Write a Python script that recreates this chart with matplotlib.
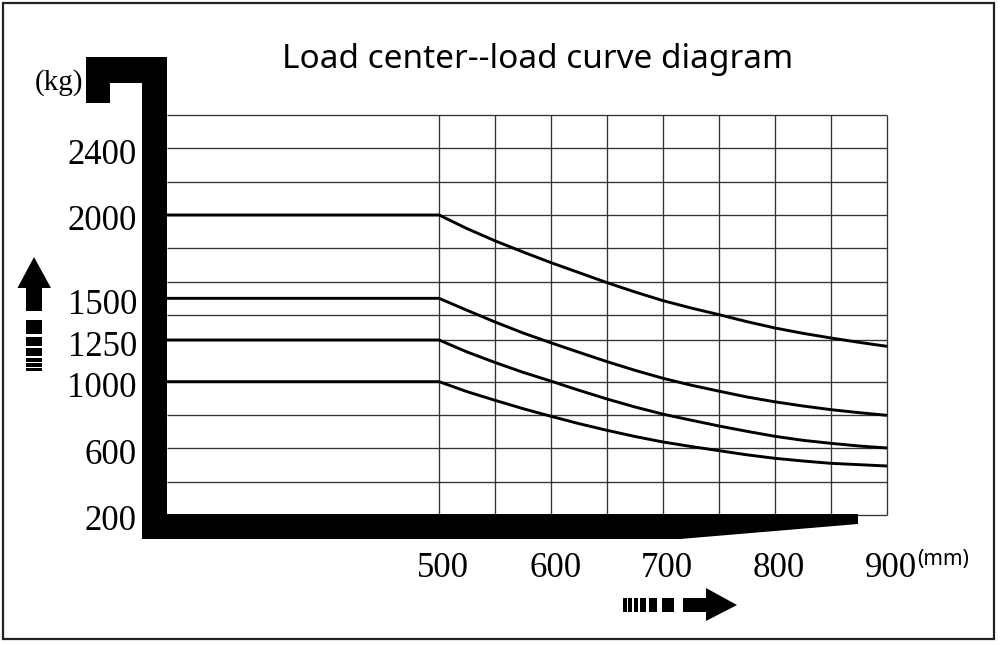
import matplotlib
matplotlib.use("Agg")
import matplotlib.pyplot as plt
import matplotlib.transforms as mtransforms
from matplotlib.patches import Polygon, Rectangle

# load center (mm) and rated load (kg)
load_center = [500, 525, 550, 575, 600, 625, 650, 675, 700,
               725, 750, 775, 800, 825, 850, 875, 900]
load_2000 = [2000, 1918, 1845, 1778, 1714, 1654, 1594, 1538, 1486,
             1442, 1402, 1360, 1322, 1290, 1262, 1236, 1212]
load_1500 = [1500, 1428, 1358, 1292, 1233, 1176, 1120, 1068, 1020,
             979, 943, 908, 879, 854, 832, 814, 798]
load_1250 = [1250, 1178, 1115, 1056, 1003, 948, 896, 848, 805,
             769, 734, 702, 672, 648, 630, 614, 602]
load_1000 = [1000, 940, 888, 838, 792, 748, 708, 671, 638,
             611, 586, 561, 540, 524, 510, 502, 494]
capacities = [2000, 1500, 1250, 1000]
curves = [load_2000, load_1500, load_1250, load_1000]

ytick_vals = [2400, 2000, 1500, 1250, 1000, 600, 200]
xtick_vals = [500, 600, 700, 800, 900]
grid_y = [200, 400, 600, 800, 1000, 1250, 1400, 1600, 1800, 2000, 2200, 2400, 2600]
grid_x = [500, 550, 600, 650, 700, 750, 800, 850, 900]

SERIF = "Liberation Serif"
SANS = "Noto Sans"

fig = plt.figure(figsize=(10, 6.45), dpi=100)

# plot area = the grid
ax = fig.add_axes([0.167, 1 - 515 / 645, 0.72, 400 / 645])
ax.set_xlim(257, 900)
ax.set_ylim(200, 2600)
ax.axis("off")
x0 = ax.get_xlim()[0]

ax.hlines(grid_y, x0, 900, color="#333333", lw=0.95, clip_on=False)
ax.vlines(grid_x, 200, 2600, color="#333333", lw=0.95, clip_on=False)
for cap, vals in zip(capacities, curves):
    ax.plot([x0] + load_center, [cap] + vals, color="black", lw=2.1,
            solid_joinstyle="round", solid_capstyle="butt", clip_on=False)

# tick labels
ytrans = mtransforms.blended_transform_factory(ax.transAxes, ax.transData) + \
    mtransforms.ScaledTranslation(-0.30, -0.155, fig.dpi_scale_trans)
for v in ytick_vals:
    ax.text(0, v, str(v), transform=ytrans, ha="right", va="baseline",
            fontsize=25, family=SERIF, clip_on=False)
xtrans = mtransforms.blended_transform_factory(ax.transData, ax.transAxes) + \
    mtransforms.ScaledTranslation(0.04, -0.62, fig.dpi_scale_trans)
for v in xtick_vals:
    ax.text(v, 0, str(v), transform=xtrans, ha="center", va="baseline",
            fontsize=25, family=SERIF, clip_on=False)

# decorations in pixel space
deco = fig.add_axes([0, 0, 1, 1], zorder=5)
deco.set_xlim(0, 1000)
deco.set_ylim(645, 0)
deco.axis("off")
deco.patch.set_alpha(0)

frame = [(86, 57), (167, 57), (167, 514), (858, 514), (858, 524), (680, 539),
         (142, 539), (142, 83), (110, 83), (110, 103), (86, 103)]
deco.add_patch(Polygon(frame, closed=True, fc="black", ec="none"))

up_arrow = [(34, 257), (51, 288), (42, 288), (42, 311), (26, 311), (26, 288), (17.5, 288)]
deco.add_patch(Polygon(up_arrow, closed=True, fc="black", ec="none"))
for top, bot in [(320, 334), (337, 346), (348, 356), (358, 362), (363, 366.5), (367.5, 371)]:
    deco.add_patch(Rectangle((26, top), 16, bot - top, fc="black", ec="none"))

right_arrow = [(683, 598), (706, 598), (706, 588), (737, 605), (706, 621), (706, 612), (683, 612)]
deco.add_patch(Polygon(right_arrow, closed=True, fc="black", ec="none"))
for left, right in [(623.3, 627), (628.3, 632), (633.5, 638), (639.5, 646), (648.5, 656.5), (661.5, 674)]:
    deco.add_patch(Rectangle((left, 598), right - left, 14, fc="black", ec="none"))

deco.add_patch(Rectangle((3, 3), 991, 636, fill=False, ec="#222222", lw=1.6))

deco.text(59, 83, "(kg)", ha="center", va="center", fontsize=21, family=SERIF)
deco.text(917, 565, "(mm)", ha="left", va="baseline", fontsize=15, family=SANS)
deco.text(538, 60, "Load center--load curve diagram", ha="center", va="center",
          fontsize=24, family=SANS)

fig.savefig("out.png", dpi=100)
